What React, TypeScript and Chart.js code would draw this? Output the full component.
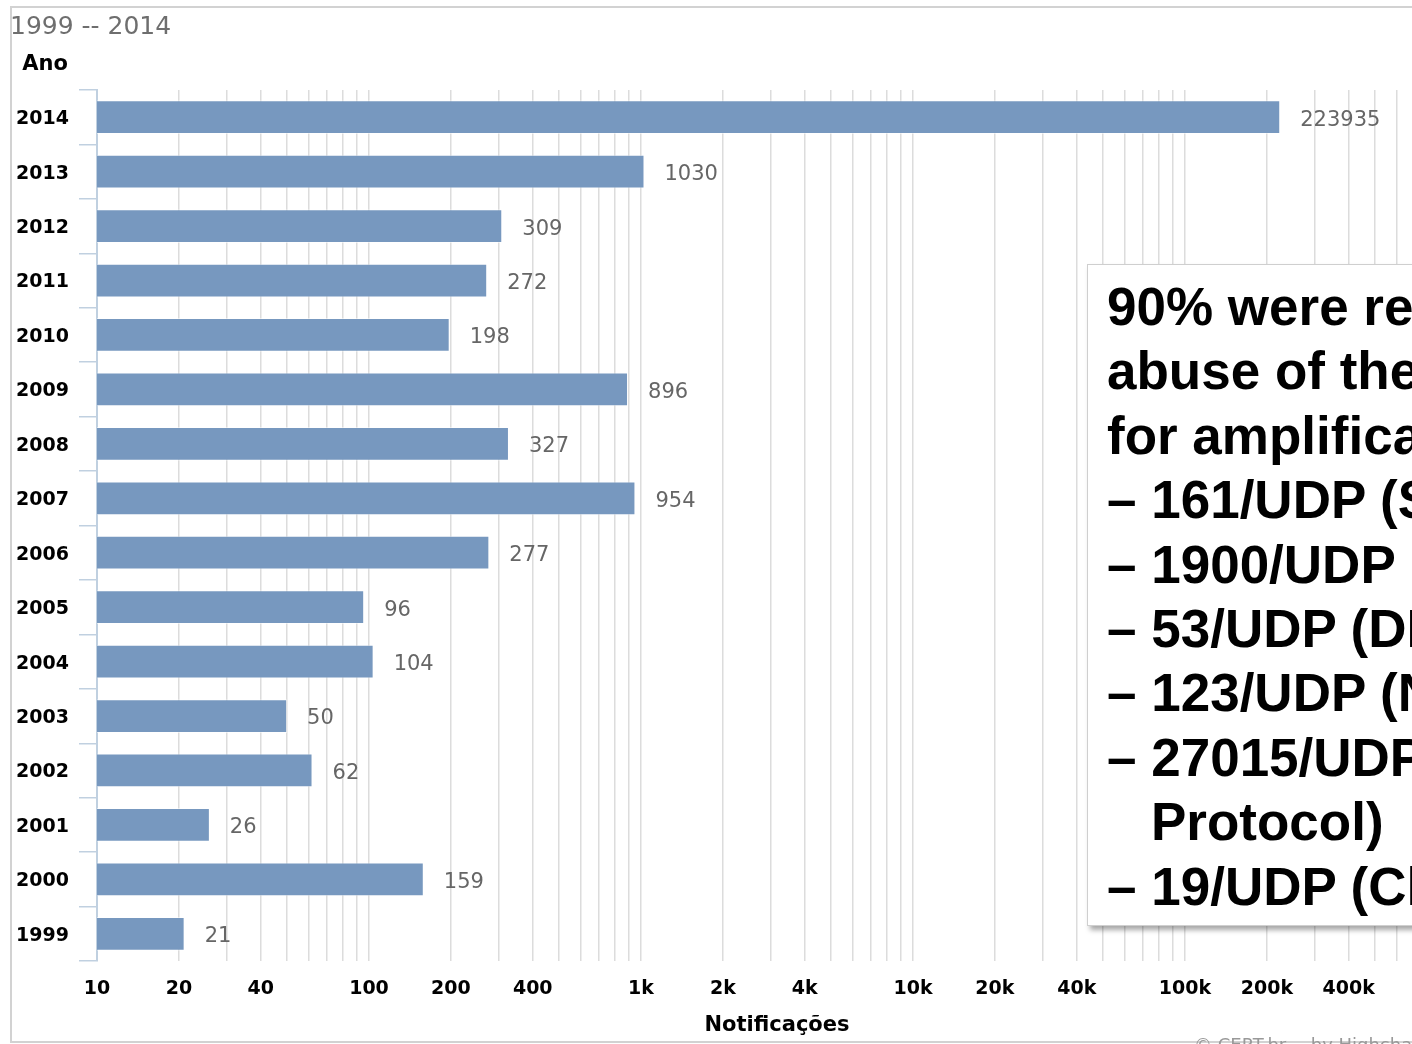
import React, { useEffect, useRef } from "react";
import { Chart, registerables } from "chart.js";

Chart.register(...registerables);

// ---- data ----
const years = ["2014", "2013", "2012", "2011", "2010", "2009", "2008", "2007", "2006", "2005", "2004", "2003", "2002", "2001", "2000", "1999"];
const notifications = [223935, 1030, 309, 272, 198, 896, 327, 954, 277, 96, 104, 50, 62, 26, 159, 21];
const labeledTicks = [10, 20, 40, 100, 200, 400, 1000, 2000, 4000, 10000, 20000, 40000, 100000, 200000, 400000];
const axisMin = 10;
const axisMax = 1000000;
const chartTitle = "1999 -- 2014";
const yAxisTitle = "Ano";
const xAxisTitle = "Notificações";
const creditsText = "© CERT.br -- by Highcharts";
const noteLines = [
  "90% were related to the",
  "abuse of the following services",
  "for amplification:",
  "– 161/UDP (SNMP)",
  "– 1900/UDP (SSDP)",
  "– 53/UDP (DNS)",
  "– 123/UDP (NTP)",
  "– 27015/UDP (Steam",
  "Protocol)",
  "– 19/UDP (Chargen)",
];
const indentedNoteLines = ["Protocol)"];

const FONT = "'DejaVu Sans', Verdana, sans-serif";

function fmt(v: number): string {
  if (v >= 1000000) return v / 1000000 + "M";
  if (v >= 1000) return v / 1000 + "k";
  return String(v);
}

const decorPlugin = {
  id: "decor",
  beforeDraw(chart: any) {
    const ctx = chart.ctx;
    ctx.save();
    ctx.fillStyle = "#ffffff";
    ctx.fillRect(0, 0, chart.width, chart.height);
    ctx.strokeStyle = "#d2d2d2";
    ctx.lineWidth = 2;
    ctx.strokeRect(11, 7, chart.width + 50, 1035);
    ctx.fillStyle = "#6e6e6e";
    ctx.font = "25px " + FONT;
    ctx.textAlign = "left";
    ctx.textBaseline = "middle";
    ctx.fillText(chartTitle, 10, 27.5);
    ctx.fillStyle = "#000000";
    ctx.font = "bold 21px " + FONT;
    ctx.textAlign = "right";
    ctx.fillText(yAxisTitle, 68, 65);
    ctx.fillStyle = "#999999";
    ctx.font = "18px " + FONT;
    ctx.textAlign = "left";
    ctx.textBaseline = "top";
    ctx.fillText(creditsText, 1194, 1037);
    ctx.restore();
  },
  afterDatasetsDraw(chart: any) {
    const ctx = chart.ctx;
    const meta = chart.getDatasetMeta(0);
    ctx.save();
    ctx.fillStyle = "#666666";
    ctx.font = "21px " + FONT;
    ctx.textAlign = "left";
    ctx.textBaseline = "middle";
    meta.data.forEach((bar: any, i: number) => {
      ctx.fillText(String(notifications[i]), bar.x + 20, bar.y + 3);
    });
    ctx.restore();
  },
};

export default function App() {
  const canvasRef = useRef<HTMLCanvasElement | null>(null);

  useEffect(() => {
    if (!canvasRef.current) return;
    const chart = new Chart(canvasRef.current, {
      type: "bar",
      data: {
        labels: years,
        datasets: [
          {
            data: notifications,
            backgroundColor: "#7798BF",
            borderColor: "rgba(255,255,255,0.5)",
            borderWidth: 1,
            barPercentage: 0.62,
            categoryPercentage: 1,
          },
        ],
      },
      options: {
        indexAxis: "y",
        animation: false,
        responsive: false,
        devicePixelRatio: 1,
        layout: { padding: { top: 90, left: 0, right: 43, bottom: 0 } },
        plugins: {
          legend: { display: false },
          tooltip: { enabled: false },
          title: { display: false },
        },
        scales: {
          x: {
            type: "logarithmic",
            min: axisMin,
            max: axisMax,
            afterBuildTicks(scale: any) {
              const t: any[] = [];
              for (let p = axisMin; p < axisMax; p *= 10) {
                for (let k = 1; k <= 9; k++) t.push({ value: k * p });
              }
              t.push({ value: axisMax });
              scale.ticks = t;
            },
            afterFit(scale: any) {
              scale.height = 83;
            },
            grid: { color: "#dcdcdc", lineWidth: 1.5, drawTicks: false },
            border: { display: false },
            ticks: {
              autoSkip: false,
              maxRotation: 0,
              minRotation: 0,
              padding: 17,
              color: "#000000",
              font: { family: FONT, size: 19, weight: "bold" },
              callback: (v: any) => (labeledTicks.includes(Number(v)) ? fmt(Number(v)) : ""),
            },
            title: {
              display: true,
              text: xAxisTitle,
              color: "#000000",
              font: { family: FONT, size: 21, weight: "bold" },
              padding: { top: 0, bottom: 6 },
            },
          },
          y: {
            type: "category",
            afterFit(scale: any) {
              scale.width = 97;
            },
            grid: {
              offset: true,
              drawOnChartArea: false,
              drawTicks: true,
              tickLength: 18,
              color: "#c0d0e0",
              lineWidth: 1.5,
            },
            border: { display: true, color: "#c0d0e0", width: 2 },
            ticks: {
              padding: 10,
              labelOffset: 2,
              color: "#000000",
              font: { family: FONT, size: 19, weight: "bold" },
            },
          },
        },
      },
      plugins: [decorPlugin],
    } as any);
    return () => chart.destroy();
  }, []);

  return (
    <div
      style={{
        position: "fixed",
        left: 0,
        top: 0,
        width: 1412,
        height: 1044,
        overflow: "hidden",
        background: "#ffffff",
      }}
    >
      <canvas ref={canvasRef} width={1500} height={1044} style={{ position: "absolute", left: 0, top: 0 }} />
      <div
        style={{
          position: "absolute",
          left: 1087,
          top: 264,
          width: 520,
          height: 662,
          boxSizing: "border-box",
          border: "1px solid #cfcfcf",
          background: "#ffffff",
          boxShadow: "3px 4px 5px rgba(0,0,0,0.35)",
          paddingTop: 10,
          paddingLeft: 19,
          fontFamily: "'Liberation Sans', Arial, sans-serif",
          fontWeight: "bold",
          fontSize: 53,
          lineHeight: "64.4px",
          color: "#000000",
          whiteSpace: "nowrap",
        }}
      >
        {noteLines.map((line, i) => (
          <div key={i} style={{ paddingLeft: indentedNoteLines.includes(line) ? 44 : 0 }}>
            {line}
          </div>
        ))}
      </div>
    </div>
  );
}
